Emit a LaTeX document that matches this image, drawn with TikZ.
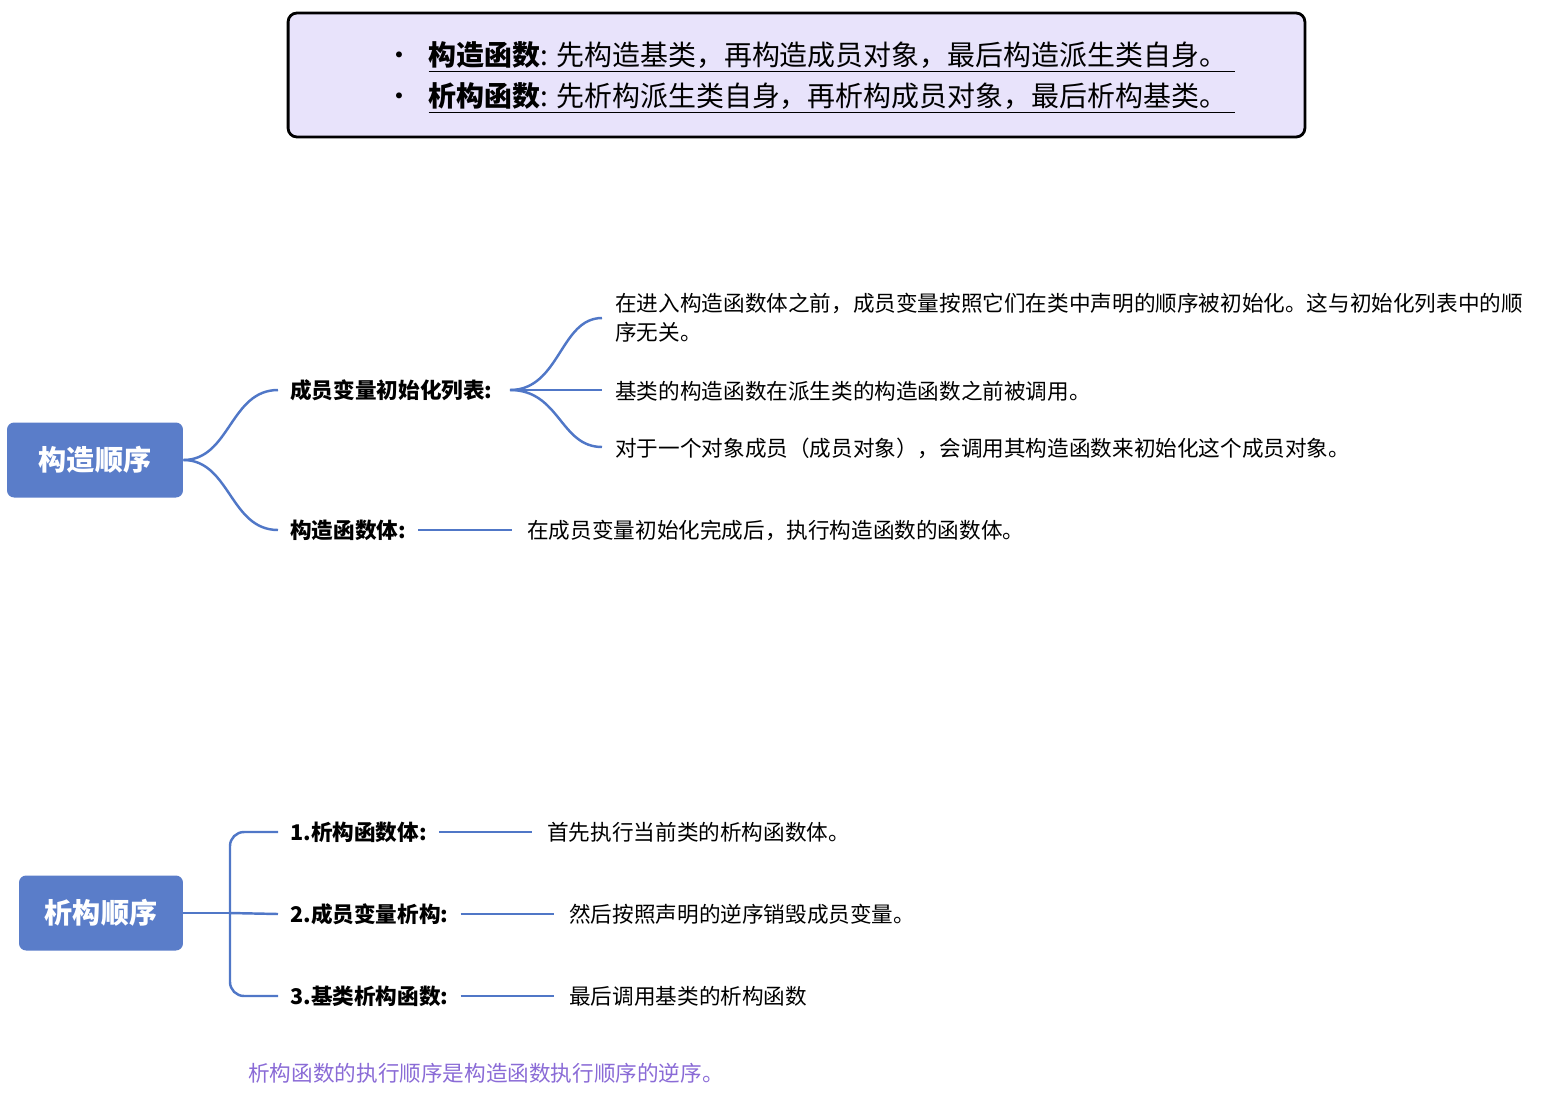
\documentclass[tikz,border=0pt]{standalone}
\usepackage{fontspec}
\setmainfont{Noto Sans CJK SC}
\usetikzlibrary{calc,positioning}
\definecolor{rootblue}{HTML}{5A7DC9}
\definecolor{linkblue}{HTML}{5077C7}
\definecolor{boxlav}{HTML}{E8E3FB}
\definecolor{notepurple}{HTML}{8A6BD6}
\tikzset{
  root/.style={fill=rootblue, rounded corners=4pt, text=white, font=\fontsize{16}{19}\selectfont\bfseries, minimum height=1.5cm},
  label/.style={anchor=west, inner sep=0pt, font=\fontsize{12.3}{15}\selectfont\bfseries},
  leaf/.style={anchor=west, inner sep=0pt, font=\fontsize{12.3}{16.5}\selectfont, align=left},
  link/.style={linkblue, line width=1.4pt}
}
\begin{document}
\begin{tikzpicture}[x=0.02cm, y=-0.02cm]
\useasboundingbox (0,0) rectangle (1552,1096);

% SUMMARY BOX
\node[draw=black, line width=1.6pt, fill=boxlav, rounded corners=5pt, minimum width=20.34cm, minimum height=2.48cm, inner sep=0pt] (sum) at (796.5,75) {};
\node[anchor=west, inner sep=0pt, font=\fontsize{15.9}{19}\selectfont] (s1) at (385,57)
  {\textbullet\hspace{0.55em}\underline{\textbf{构造函数}: 先构造基类，再构造成员对象，最后构造派生类自身。\hspace{0.3em}}};
\node[anchor=west, inner sep=0pt, font=\fontsize{15.9}{19}\selectfont] (s2) at (385,98)
  {\textbullet\hspace{0.55em}\underline{\textbf{析构函数}: 先析构派生类自身，再析构成员对象，最后析构基类。\hspace{0.3em}}};

% CONSTRUCTION ORDER
\node[root, minimum width=3.52cm] (ctor) at (95,460) {构造顺序};
\node[label] (init) at (290,390) {成员变量初始化列表:};
\node[label] (body) at (290,530) {构造函数体:};
\coordinate (initin) at (278,390);
\coordinate (bodyin) at (278,530);
\draw[link] (ctor.east) .. controls (230,460) and (230,390) .. (initin);
\draw[link] (ctor.east) .. controls (230,460) and (230,530) .. (bodyin);
% leaves of the list
\node[leaf] (l1) at (615,318) {在进入构造函数体之前，成员变量按照它们在类中声明的顺序被初始化。这与初始化列表中的顺\\序无关。};
\node[leaf] (l2) at (615,391) {基类的构造函数在派生类的构造函数之前被调用。};
\node[leaf] (l3) at (615,448) {对于一个对象成员（成员对象），会调用其构造函数来初始化这个成员对象。};
\coordinate (initout) at (510,390);
\coordinate (l1in) at (602,318);
\coordinate (l2in) at (602,390);
\coordinate (l3in) at (602,447);
\draw[link] (initout) .. controls (560,390) and (560,318) .. (l1in);
\draw[link] (initout) -- (l2in);
\draw[link] (initout) .. controls (560,390) and (560,447) .. (l3in);
% body leaf
\node[leaf] (b1) at (527,530) {在成员变量初始化完成后，执行构造函数的函数体。};
\draw[link] ($(body.east)+(12,0)$) -- ($(b1.west)+(-15,0)$);

% DESTRUCTION ORDER
\node[root, minimum width=3.28cm] (dtor) at (101,913) {析构顺序};
\node[label] (d1) at (290,832) {1.析构函数体:};
\node[label] (d2) at (290,914) {2.成员变量析构:};
\node[label] (d3) at (290,996) {3.基类析构函数:};
\coordinate (fork) at (230,913);
\draw[link] (dtor.east) -- (fork);
\draw[link, rounded corners=8pt] (278,832) -- (230,832) -- (230,996) -- (278,996);
\draw[link] (fork) -- (278,914);
% leaves
\node[leaf] (e1) at (547,832) {首先执行当前类的析构函数体。};
\node[leaf] (e2) at (569,914) {然后按照声明的逆序销毁成员变量。};
\node[leaf] (e3) at (569,996) {最后调用基类的析构函数};
\draw[link] ($(d1.east)+(12,0)$) -- ($(e1.west)+(-15,0)$);
\draw[link] ($(d2.east)+(12,0)$) -- ($(e2.west)+(-15,0)$);
\draw[link] ($(d3.east)+(12,0)$) -- ($(e3.west)+(-15,0)$);

% NOTE
\node[leaf, text=notepurple] (note) at (248,1073) {析构函数的执行顺序是构造函数执行顺序的逆序。};
\end{tikzpicture}
\end{document}
